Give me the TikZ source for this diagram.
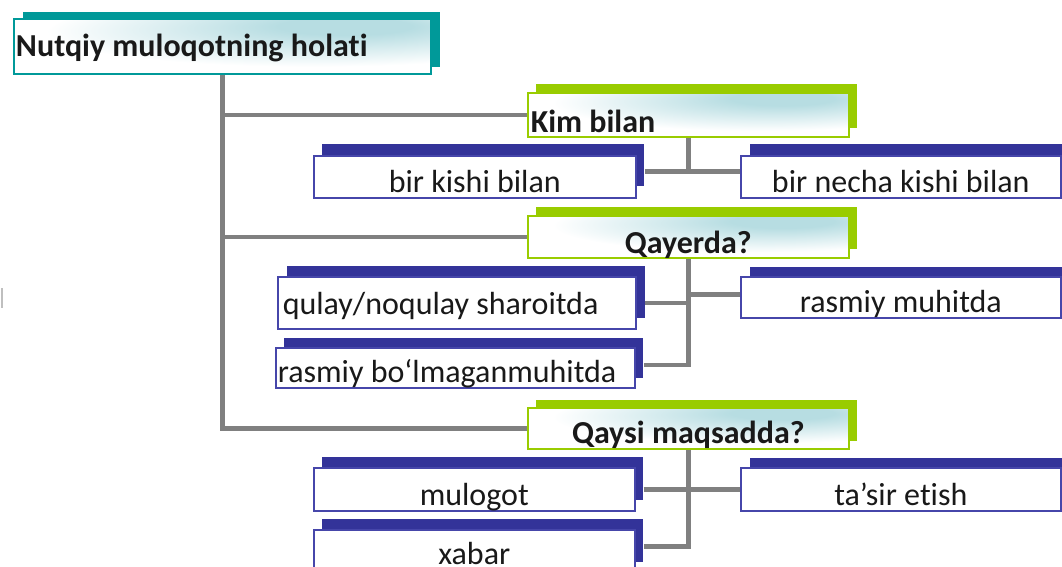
\documentclass[tikz,border=0pt]{standalone}
\usepackage{fontspec}
\setmainfont{Carlito}[Ligatures={NoCommon}]
\usetikzlibrary{shadows}
\definecolor{tealc}{RGB}{0,153,153}
\definecolor{greenc}{RGB}{153,204,0}
\definecolor{bluec}{RGB}{51,51,153}
\definecolor{blueline}{RGB}{70,70,170}
\definecolor{linegray}{RGB}{128,128,128}
\definecolor{glowc}{RGB}{183,221,226}
\definecolor{txt}{RGB}{25,25,25}
\newcommand{\leftbx}[2]{\makebox[#1][l]{#2}}
\pgfdeclareradialshading{glowshade}{\pgfpoint{16bp}{20bp}}{color(0bp)=(glowc); color(8bp)=(glowc); color(32bp)=(white); color(100bp)=(white)}
\tikzset{
  conn/.style={draw=linegray, line width=4.5pt},
  headbox/.style={rectangle, anchor=north west, inner ysep=0pt, shade, shading=glowshade,
    font=\bfseries\fontsize{32}{38}\selectfont, text depth=0pt, text=txt},
  tealbox/.style={headbox, draw=tealc, line width=2pt,
    general shadow={fill=tealc, shadow xshift=9pt, shadow yshift=7pt}},
  greenbox/.style 2 args={headbox, draw=greenc, line width=1.6pt,
    general shadow={fill=greenc, shadow xshift=#1pt, shadow yshift=#2pt}},
  bluebox/.style 2 args={rectangle, anchor=north west, inner ysep=0pt, fill=white,
    draw=blueline, line width=1.6pt, font=\fontsize{32}{38}\selectfont,
    text depth=0pt, text=txt,
    general shadow={fill=bluec, shadow xshift=#1pt, shadow yshift=#2pt}}
}
\begin{document}
\begin{tikzpicture}[x=1pt,y=-1pt]
\useasboundingbox (0,0) rectangle (1062,567);
\fill[white] (0,0) rectangle (1062,567);
% small mark at left edge
\draw[draw=black!25, line width=1.5pt] (2,288) -- (2,308);

% header boxes
\node[tealbox, inner xsep=2pt, minimum width=417pt, minimum height=55pt, text height=21pt] (top) at (13,18) {\leftbx{413pt}{Nutqiy muloqotning holati}};
\node[greenbox={8}{9}, inner xsep=3pt, minimum width=321pt, minimum height=44pt, text height=36pt] (kim) at (527,92) {\leftbx{315pt}{Kim bilan}};
\node[greenbox={8}{9}, minimum width=321pt, minimum height=42pt, text height=34pt] (qay) at (527,215) {Qayerda?};
\node[greenbox={8}{7.5}, minimum width=321pt, minimum height=41pt, text height=31pt] (qays) at (527,407) {Qaysi maqsadda?};

% leaf boxes
\node[bluebox={8}{12}, minimum width=322pt, minimum height=42pt, text height=32pt] (b1) at (313,155) {bir kishi bilan};
\node[bluebox={9}{12}, minimum width=320pt, minimum height=42pt, text height=32pt] (b2) at (740,155) {bir necha kishi bilan};
\node[bluebox={9}{11}, inner xsep=5pt, minimum width=358pt, minimum height=52pt, text height=24pt] (q1) at (277,276) {\leftbx{348pt}{qulay/noqulay sharoitda}};
\node[bluebox={8}{10}, inner xsep=2pt, minimum width=359pt, minimum height=40pt, text height=30pt] (q2) at (275,347) {\leftbx{355pt}{rasmiy bo‘lmaganmuhitda}};
\node[bluebox={9}{10}, minimum width=320pt, minimum height=41pt, text height=31pt] (q3) at (740,276) {rasmiy muhitda};
\node[bluebox={8}{11}, minimum width=321pt, minimum height=43pt, text height=33pt] (m1) at (313,467) {mulogot};
\node[bluebox={8}{11}, minimum width=321pt, minimum height=43pt, text height=26pt] (m2) at (313,529) {xabar};
\node[bluebox={9}{10}, minimum width=320pt, minimum height=43pt, text height=33pt] (m3) at (740,467) {ta’sir etish};

% trunk
\draw[conn] (top.south) |- (kim.west);
\draw[conn] (top.south) |- (qay.west);
\draw[conn] (top.south) |- (qays.west);

% Kim bilan junction
\draw[conn] (kim.south) -- ++(0,34) coordinate (kj);
\draw[conn] ([xshift=8pt]b1.east |- kj) -- (b2.west |- kj);

% Qayerda junction
\draw[conn] (qay.south) |- ([xshift=8pt,yshift=3pt]q2.east);
\draw[conn] ([xshift=8pt]q1.east) -- (q1.east -| qay.south);
\draw[conn] ([yshift=3pt]q3.west -| qay.south) -- ([yshift=3pt]q3.west);

% Qaysi maqsadda junction
\draw[conn] (qays.south) |- ([xshift=8pt,yshift=5pt]m2.east);
\draw[conn] ([xshift=8pt]m1.east) -- (m3.west);
\end{tikzpicture}
\end{document}
